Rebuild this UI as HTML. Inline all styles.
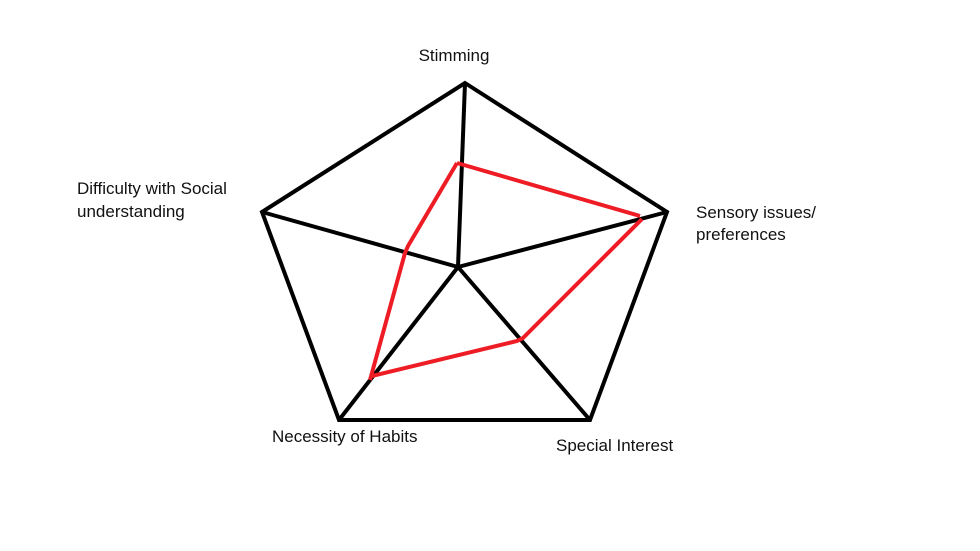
<!DOCTYPE html>
<html><head><style>
body{margin:0;background:#fff;width:980px;height:551px;overflow:hidden}
svg{position:absolute;left:0;top:0}
.t{font-family:"Liberation Sans",sans-serif;font-size:17px;fill:#111}
</style></head><body>
<svg width="980" height="551" viewBox="0 0 980 551">
<g stroke="#000" stroke-width="4" fill="none" stroke-linejoin="miter">
<polygon points="465,83 667,212 590,420 339,420 262,212"/>
<line x1="465" y1="83" x2="458" y2="267"/>
<line x1="262" y1="212" x2="458" y2="267"/>
<line x1="667" y1="212" x2="458" y2="267"/>
<line x1="339" y1="420" x2="458" y2="267"/>
<line x1="590" y1="420" x2="458" y2="267"/>
</g>
<polyline points="457,163 640,216" stroke="#ee1c24" stroke-width="4" fill="none"/>
<polyline points="642,219 523,338 517,341 372,376" stroke="#ee1c24" stroke-width="4" fill="none"/>
<polyline points="370,380 405,253 408,246 457,163" stroke="#ee1c24" stroke-width="4" fill="none"/>
<text class="t" x="454" y="61" text-anchor="middle">Stimming</text>
<text class="t" x="77" y="194">Difficulty with Social</text>
<text class="t" x="77" y="217">understanding</text>
<text class="t" x="696" y="218">Sensory issues/</text>
<text class="t" x="696" y="240">preferences</text>
<text class="t" x="272" y="442">Necessity of Habits</text>
<text class="t" x="556" y="451">Special Interest</text>
</svg>
</body></html>
